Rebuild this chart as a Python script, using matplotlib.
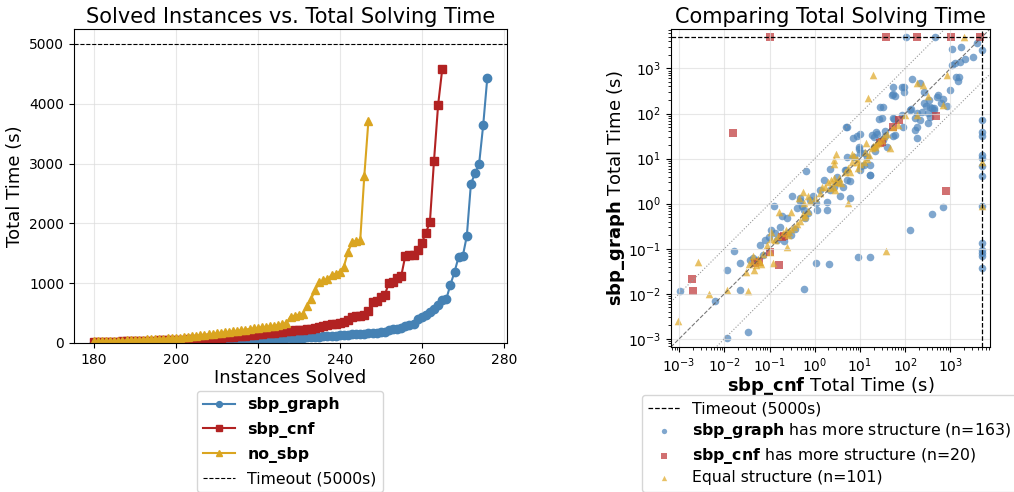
import matplotlib
matplotlib.use("Agg")
import matplotlib.pyplot as plt
import numpy as np

# ---- cactus data: sorted per-instance solving times (s), starting at instance 180 ----
first_instance = 180
graph_times = [
    2, 3, 3, 4, 4, 5, 5, 6, 6, 7,
    7, 8, 8, 9, 9, 10, 10, 11, 12, 12,
    13, 13, 14, 15, 15, 16, 17, 17, 18, 19,
    20, 21, 23, 26, 29, 32, 35, 38, 42, 46,
    50, 54, 57, 60, 64, 68, 72, 76, 80, 82,
    85, 88, 92, 96, 100, 104, 108, 112, 117, 122,
    128, 135, 140, 145, 148, 152, 157, 160, 165, 172,
    178, 189, 211, 234, 239, 256, 278, 300, 317, 395,
    434, 473, 523, 573, 634, 718, 735, 974, 1186, 1441,
    1447, 1788, 2662, 2834, 2995, 3647, 4437,
]
cnf_times = [
    15, 16, 17, 18, 20, 21, 22, 24, 26, 28,
    29, 31, 33, 35, 37, 39, 41, 43, 45, 48,
    50, 53, 56, 59, 62, 66, 70, 74, 78, 82,
    86, 90, 94, 99, 104, 110, 116, 122, 129, 136,
    145, 152, 158, 165, 172, 180, 187, 195, 203, 210,
    216, 222, 234, 239, 250, 261, 289, 294, 311, 322,
    334, 356, 389, 434, 445, 456, 473, 528, 678, 695,
    770, 800, 1010, 1024, 1090, 1118, 1458, 1464, 1475, 1553,
    1675, 1834, 2025, 3050, 3981, 4577,
]
nosbp_times = [
    25, 28, 30, 32, 34, 36, 38, 40, 43, 46,
    50, 53, 56, 59, 62, 65, 68, 72, 76, 80,
    84, 90, 96, 102, 110, 118, 126, 134, 142, 152,
    162, 170, 178, 186, 195, 204, 214, 224, 234, 244,
    252, 262, 270, 280, 290, 300, 312,
    334, 440, 456, 473, 490, 612, 735, 879, 1019, 1046, 1069,
    1130, 1158, 1191, 1275, 1514, 1685, 1710, 1714, 2795, 3714,
]
TIMEOUT = 5000

# ---- scatter data: (sbp_cnf time, sbp_graph time) ----
graph_more = [
    (102, 5000), (468, 5000),
    (5000, 2630), (5000, 72), (5000, 39.7), (5000, 31.9), (5000, 12.1), (5000, 10.2),
    (5000, 7.0), (5000, 4.15), (5000, 0.90), (5000, 0.134), (5000, 0.096), (5000, 0.081),
    (5000, 0.068), (5000, 0.0376),
    (3900, 3650), (3100, 1780), (1680, 2960), (1110, 2770), (1540, 640), (1490, 525),
    (1100, 1180), (1250, 1330),
    (138, 570), (95, 385), (54, 265), (59, 244), (27.5, 141), (187, 101), (133, 124),
    (263, 168), (295, 147), (350, 139), (437, 135), (537, 252), (312, 101), (238, 108),
    (323, 61), (187, 51), (95, 299), (57, 77), (30, 78), (59, 33), (4.8, 51), (7.1, 29),
    (9.9, 36), (24, 36), (20, 30), (9.4, 16), (12.4, 13), (9.9, 5.6), (16.5, 4.3),
    (4.9, 5.6), (2.2, 5.8),
    (215, 466), (255, 305), (328, 200), (500, 236), (616, 168), (835, 147), (424, 120),
    (357, 85), (166, 43), (215, 72), (129, 120), (84, 93), (55, 78), (51, 257), (55, 380),
    (33, 142), (26, 76), (181, 28), (84, 393), (36, 40),
    (2.6, 2.4), (3.2, 2.95), (2.2, 2.0), (1.6, 3.4), (1.3, 2.0), (1.07, 1.03), (0.72, 0.62),
    (0.58, 0.73), (0.52, 0.87), (0.475, 1.33), (0.47, 1.12), (0.79, 1.22), (0.93, 1.45),
    (1.85, 0.73), (3.6, 1.45), (4.3, 2.4), (5.1, 3.4), (4.7, 5.6), (5.1, 11), (7.2, 11),
    (9.8, 13.6), (12, 7.2), (16.3, 4.4), (17, 7.2), (9.4, 18.5), (8.5, 31),
    (5.1, 50), (18, 33.5), (23, 38), (33, 26), (39, 18.5), (55, 31), (20, 18.5), (14, 11),
    (3.1, 4.0), (0.65, 5.2), (0.31, 1.45), (0.4, 0.79), (0.19, 0.52), (0.24, 0.48),
    (0.126, 0.9), (0.17, 0.31), (0.13, 0.22), (0.11, 0.26), (0.095, 0.18), (0.08, 0.16),
    (0.062, 0.12), (0.073, 0.074), (0.052, 0.057), (0.044, 0.063), (0.037, 0.057),
    (0.016, 0.088), (0.022, 0.0485), (0.0114, 0.033), (0.0225, 0.0123),
    (0.0063, 0.0069), (0.00105, 0.0115), (0.0117, 0.00106), (0.034, 0.0014), (0.59, 0.0126),
    (1.07, 0.0485), (2.1, 0.047), (129, 0.265), (400, 0.59), (680, 0.84), (9.0, 0.065),
    (16.8, 0.065), (0.25, 0.22), (0.145, 0.16), (0.21, 0.15), (0.3, 0.2), (0.37, 0.27),
    (0.6, 0.47), (1.1, 0.72), (1.85, 1.1), (6.0, 3.2), (10.6, 6.7), (21, 14.5), (36, 31),
    (88, 51), (166, 78), (390, 130), (690, 215), (1000, 330), (1300, 650), (1650, 1400),
    (2100, 1650), (6.0, 1.37),
]
cnf_more = [
    (0.10, 5000), (38, 5000), (181, 5000), (1030, 5000), (4600, 5000),
    (0.0159, 37.8), (477, 90), (794, 1.87), (73.6, 72), (52.5, 51), (30.5, 23.9),
    (0.00194, 0.0215), (0.00207, 0.0113), (0.103, 0.085), (0.158, 0.0446),
    (0.048, 0.0485), (0.187, 0.182), (0.214, 0.195), (0.057, 0.050), (28, 22),
]
equal = [
    (2050, 5000), (5000, 8.6), (5000, 0.87),
    (19.6, 700), (14.7, 224), (187, 481), (250, 420), (323, 244), (690, 154), (820, 711),
    (98, 91), (178, 91), (70, 55), (34, 32), (46, 17.5), (13.5, 22.6), (14, 10), (3, 12.5),
    (2.7, 9.2), (2.7, 7.5), (6.5, 12.6), (6.5, 8.2),
    (19, 19), (21, 20), (23, 21), (25, 22), (22, 18.5), (18, 17), (26, 24), (30, 26),
    (5.5, 1.06), (36.7, 0.091),
    (7.5, 11.7), (8.5, 9.8), (8.5, 8.3), (10, 7.5), (12, 8.5),
    (2.0, 3.1), (2.3, 3.4), (2.6, 3.7), (2.8, 3.1), (3.2, 2.95), (2.5, 2.4), (2.2, 2.2),
    (1.7, 2.4), (1.43, 2.4), (2.8, 2.0), (3.5, 3.7), (3.8, 2.9), (1.32, 1.7), (1.02, 1.33),
    (0.79, 1.12), (0.58, 1.03), (0.54, 1.86), (0.72, 1.5),
    (0.11, 0.164), (0.107, 0.24), (0.16, 0.66), (0.3, 0.66), (0.24, 0.11), (0.12, 0.048),
    (0.2, 0.22), (0.23, 0.26), (0.27, 0.24), (0.3, 0.28), (0.35, 0.3), (0.25, 0.2),
    (0.4, 0.36), (0.48, 0.42), (0.58, 0.5), (0.62, 0.55), (0.7, 0.7), (0.45, 1.35),
    (0.55, 0.6),
    (0.00095, 0.00244), (0.00255, 0.052), (0.0045, 0.01), (0.0117, 0.0124), (0.034, 0.0118),
    (0.03, 0.031), (0.035, 0.045), (0.04, 0.05), (0.045, 0.033), (0.05, 0.044),
    (0.044, 0.07), (0.06, 0.05), (0.07, 0.075), (0.055, 0.058), (0.065, 0.045),
    (0.09, 0.12), (0.13, 0.16), (0.15, 0.19), (0.1, 0.085),
    (4.7, 5.1), (5.3, 6.2), (6.0, 5.0), (9, 6.3), (16, 12), (13, 14), (40, 36), (55, 50),
]

BLUE = "#4682B4"
RED = "#B22222"
GOLD = "#DAA520"

fig = plt.figure(figsize=(10.14, 4.92), dpi=100)
ax1 = fig.add_axes([0.073, 0.303, 0.427, 0.638])
ax2 = fig.add_axes([0.6617, 0.2947, 0.3146, 0.6463])

# ---- left: cactus plot ----
series = [
    (graph_times, "sbp_graph", BLUE, "o"),
    (cnf_times, "sbp_cnf", RED, "s"),
    (nosbp_times, "no_sbp", GOLD, "^"),
]
for times, label, color, marker in series:
    xs = np.arange(first_instance, first_instance + len(times))
    ax1.plot(xs, times, color=color, marker=marker, markersize=6,
             linewidth=1.5, label=label)
ax1.axhline(TIMEOUT, color="black", linestyle="--", linewidth=0.8,
            label="Timeout (5000s)")
ax1.set_ylim(0, TIMEOUT * 1.05)
ax1.grid(True, color="#dddddd", alpha=0.7, linewidth=0.8)
ax1.set_xlabel("Instances Solved", fontsize=13, labelpad=2)
ax1.set_ylabel("Total Time (s)", fontsize=13)
ax1.set_title("Solved Instances vs. Total Solving Time", fontsize=15, pad=4)
ax1.tick_params(labelsize=10)
leg1 = ax1.legend(loc="upper left", bbox_to_anchor=(0.1943, 0.2053),
                  bbox_transform=fig.transFigure, fontsize=11.3,
                  markerscale=0.7, borderaxespad=0, labelspacing=0.55)
for txt in leg1.get_texts()[:3]:
    txt.set_fontweight("bold")

# ---- right: pairwise scatter ----
lo, hi = 6.6e-4, 7500
diag = np.array([lo, hi])
ax2.plot(diag, diag, color="#555555", linestyle="--", linewidth=0.8, alpha=0.8)
ax2.plot(diag, diag * 10, color="#999999", linestyle=":", linewidth=0.8)
ax2.plot(diag, diag / 10, color="#999999", linestyle=":", linewidth=0.8)
ax2.axhline(TIMEOUT, color="black", linestyle="--", linewidth=0.9,
            label="Timeout (5000s)")
ax2.axvline(TIMEOUT, color="black", linestyle="--", linewidth=0.9)

groups = [
    (graph_more, r"$\bf{sbp\_graph}$ has more structure (n=163)", "#4F86BC", "o"),
    (cnf_more, r"$\bf{sbp\_cnf}$ has more structure (n=20)", "#C0393B", "s"),
    (equal, "Equal structure (n=101)", "#E0AA2A", "^"),
]
for pts, label, color, marker in groups:
    arr = np.array(pts)
    ax2.scatter(arr[:, 0], arr[:, 1], s=30, color=color, marker=marker,
                alpha=0.72, linewidths=0, label=label)

ax2.set_xscale("log")
ax2.set_yscale("log")
ax2.set_xlim(lo, hi)
ax2.set_ylim(lo, hi)
ax2.grid(True, which="major", color="#dddddd", alpha=0.7, linewidth=0.8)
ax2.set_xlabel(r"$\bf{sbp\_cnf}$ Total Time (s)", fontsize=13, labelpad=0)
ax2.set_ylabel(r"$\bf{sbp\_graph}$ Total Time (s)", fontsize=13, labelpad=1)
ax2.set_title("Comparing Total Solving Time", fontsize=15, pad=4)
ax2.tick_params(labelsize=10)
ax2.legend(loc="upper left", bbox_to_anchor=(0.633, 0.197),
           bbox_transform=fig.transFigure, fontsize=11.3,
           markerscale=0.7, borderaxespad=0, labelspacing=0.3)

fig.savefig("out.png", dpi=100)
